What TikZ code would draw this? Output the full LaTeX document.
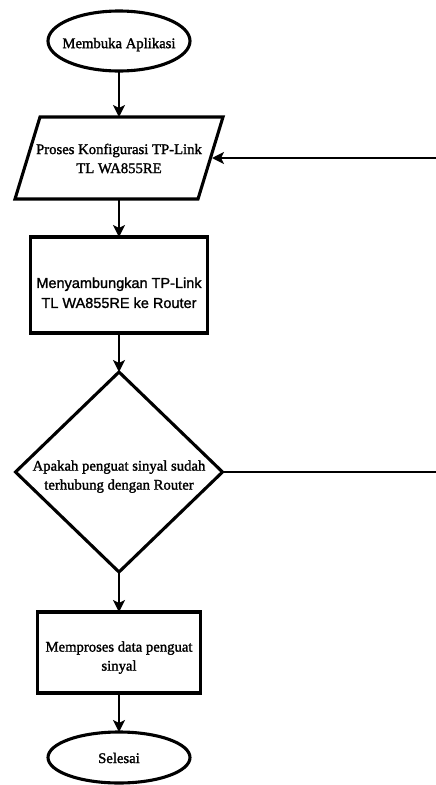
\documentclass[tikz,border=0pt]{standalone}
\usepackage{fontspec}
\setmainfont{Liberation Serif}[AutoFakeBold=1.6]
\newfontfamily\arialfont{Liberation Sans}[AutoFakeBold=1.3]
\usetikzlibrary{shapes.geometric,arrows.meta}
\begin{document}
\begin{tikzpicture}[x=1pt,y=-1pt,
  shp/.style={draw, line width=3.1pt, inner sep=0pt, outer sep=0pt},
  txt/.style={inner sep=0pt, align=center, font=\bfseries\fontsize{14.7}{19}\selectfont},
  stxt/.style={inner sep=0pt, align=center, font=\arialfont\bfseries\fontsize{14.5}{20}\selectfont},
  arr/.style={line width=2.6pt, -{Stealth[length=12pt,width=12pt,inset=3pt]}},
  ln/.style={line width=2.6pt}]
\useasboundingbox (0,0) rectangle (436,785);
% shapes
\node[shp, ellipse, minimum width=142pt, minimum height=60pt] (start) at (119,41) {};
\node[rectangle, inner sep=0pt, outer sep=0pt, minimum width=183pt, minimum height=82pt] (conf) at (119,158) {};
\draw[line width=3.1pt, line join=miter]
  ([xshift=12.5pt]conf.north west) -- ([xshift=12.5pt]conf.north east)
  -- ([xshift=-12.5pt]conf.south east) -- ([xshift=-12.5pt]conf.south west) -- cycle;
\node[shp, rectangle, minimum width=177pt, minimum height=96pt] (conn) at (119,285) {};
\node[shp, diamond, minimum width=207pt, minimum height=200pt] (dec) at (119,472) {};
\node[shp, rectangle, minimum width=163pt, minimum height=81pt] (proc) at (119,652.5) {};
\node[shp, ellipse, minimum width=142pt, minimum height=51pt] (stop) at (119,757.5) {};
% texts
\node[txt] (startT) at (119,44.6) {Membuka Aplikasi};
\node[txt] (confT) at (119,158.5) {Proses Konfigurasi TP-Link\\TL WA855RE};
\node[stxt] (connT) at (119,292.8) {Menyambungkan TP-Link\\TL WA855RE ke Router};
\node[txt] (decT) at (119,476.6) {Apakah penguat sinyal sudah\\terhubung dengan Router};
\node[txt] (procT) at (119,657.6) {Memproses data penguat\\sinyal};
\node[txt] (stopT) at (119,758) {Selesai};
% connectors
\draw[arr] (start.south) -- (conf.north);
\draw[arr] (conf.south) -- (conn.north);
\draw[arr] (conn.south) -- (dec.north);
\draw[arr] (dec.south) -- (proc.north);
\draw[arr] (proc.south) -- (stop.north);
\coordinate (back) at (436,158);
\coordinate (noend) at (436,472);
\draw[arr] (back) -- ([xshift=1.5pt]conf.east);
\draw[ln] (dec.east) -- (noend);
\end{tikzpicture}
\end{document}
